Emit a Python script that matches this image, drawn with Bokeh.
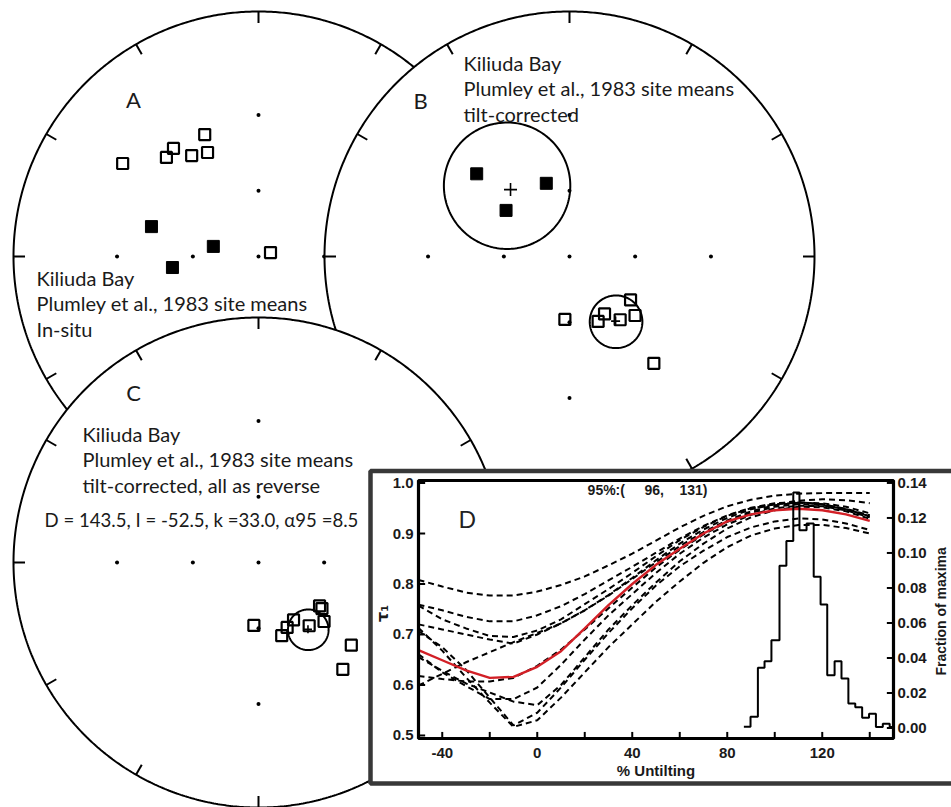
import numpy as np
from bokeh.plotting import figure
from bokeh.models import Range1d
from bokeh.core.properties import value
from bokeh.embed import file_html
from bokeh.resources import INLINE

# ---------------- data ----------------
# Panel A: Kiliuda Bay site means, in-situ (declination, inclination)
a_dec = [304.4, 317.1, 321.8, 326.5, 336.2, 333.9, 71.9, 285.6, 282.6, 262.7]
a_inc = [-22.2, -32.2, -31.4, -37.4, -32.9, -39.4, -84.1, 41.2, 68.6, 51.0]

# Panel B: same sites, tilt-corrected
b_dec = [311.7, 342.4, 306.0, 184.2, 125.4, 148.6, 156.2, 141.3, 132.0, 141.7]
b_inc = [36.2, 55.2, 54.5, -61.1, -56.0, -59.3, -57.7, -53.4, -50.4, -31.9]
b_mean_dec = [318.6, 144.5]
b_mean_inc = [50.0, -54.1]
b_mean_a95 = [25.5, 11.1]

# Panel C: tilt-corrected, all as reverse -- Fisher mean
c_mean_dec = 143.5
c_mean_inc = -52.5
c_mean_k = 33.0
c_mean_a95 = 8.5

# Panel D: fold test
untilt = [-50, -40, -30, -20, -10, 0, 10, 20, 30, 40, 50, 60, 70, 80, 90, 100, 110, 120, 130, 140]
tau1_data = [0.669, 0.649, 0.629, 0.614, 0.616, 0.636, 0.667, 0.712, 0.758, 0.800,
             0.838, 0.870, 0.900, 0.924, 0.938, 0.946, 0.949, 0.946, 0.938, 0.925]
tau1_boot = [
    [0.808, 0.795, 0.783, 0.777, 0.777, 0.785, 0.798, 0.815, 0.837, 0.860, 0.886, 0.912, 0.935, 0.954, 0.967, 0.975, 0.979, 0.980, 0.980, 0.980],
    [0.759, 0.748, 0.735, 0.726, 0.726, 0.738, 0.756, 0.780, 0.807, 0.834, 0.862, 0.890, 0.915, 0.936, 0.951, 0.960, 0.962, 0.958, 0.949, 0.936],
    [0.757, 0.730, 0.712, 0.697, 0.695, 0.708, 0.730, 0.760, 0.790, 0.822, 0.855, 0.887, 0.913, 0.935, 0.950, 0.958, 0.961, 0.958, 0.948, 0.934],
    [0.720, 0.710, 0.700, 0.690, 0.682, 0.700, 0.722, 0.748, 0.778, 0.812, 0.847, 0.880, 0.908, 0.931, 0.948, 0.958, 0.965, 0.968, 0.966, 0.960],
    [0.713, 0.668, 0.615, 0.565, 0.517, 0.530, 0.575, 0.625, 0.675, 0.720, 0.765, 0.805, 0.842, 0.873, 0.896, 0.910, 0.917, 0.917, 0.911, 0.900],
    [0.707, 0.675, 0.630, 0.575, 0.520, 0.545, 0.595, 0.650, 0.703, 0.752, 0.797, 0.835, 0.866, 0.893, 0.912, 0.924, 0.930, 0.928, 0.920, 0.907],
    [0.661, 0.625, 0.598, 0.572, 0.572, 0.595, 0.640, 0.690, 0.738, 0.780, 0.822, 0.860, 0.892, 0.918, 0.937, 0.950, 0.955, 0.954, 0.946, 0.932],
    [0.655, 0.628, 0.603, 0.585, 0.567, 0.560, 0.600, 0.655, 0.710, 0.758, 0.803, 0.845, 0.880, 0.910, 0.932, 0.946, 0.953, 0.952, 0.944, 0.929],
    [0.618, 0.612, 0.607, 0.607, 0.614, 0.638, 0.670, 0.710, 0.752, 0.793, 0.833, 0.868, 0.898, 0.923, 0.941, 0.953, 0.958, 0.956, 0.948, 0.934],
    [0.599, 0.622, 0.645, 0.665, 0.685, 0.703, 0.722, 0.748, 0.777, 0.810, 0.843, 0.875, 0.903, 0.926, 0.944, 0.956, 0.961, 0.960, 0.953, 0.940],
]
hist_edges = [87.0, 89.8, 92.9, 95.7, 98.6, 102.0, 104.9, 107.8, 110.4, 113.4, 116.4, 119.3,
              122.1, 125.2, 128.1, 131.0, 133.9, 136.8, 139.7, 142.6, 145.5, 148.4, 150.0]
hist_frac = [0.0007, 0.0064, 0.0344, 0.0382, 0.0502, 0.0927, 0.1068, 0.1346, 0.1130, 0.1169, 0.0864,
             0.0706, 0.0302, 0.0382, 0.0283, 0.0140, 0.0119, 0.0058, 0.0081, 0.0005, 0.0024, 0.0005]
bounds95 = (96, 131)

tau_ticks = [0.5, 0.6, 0.7, 0.8, 0.9, 1.0]
tau_tick_labels = ["0.5", "0.6", "0.7", "0.8", "0.9", "1.0"]
x_ticks = [-40, -20, 0, 20, 40, 60, 80, 100, 120, 140]
x_tick_labels = ["-40", "0", "40", "80", "120"]
x_tick_label_pos = [-40, 0, 40, 80, 120]
frac_ticks = [0.0, 0.02, 0.04, 0.06, 0.08, 0.10, 0.12, 0.14]
frac_tick_labels = ["0.00", "0.02", "0.04", "0.06", "0.08", "0.10", "0.12", "0.14"]

# ---------------- helpers ----------------
def stereo(dec, inc):
    d = np.radians(np.asarray(dec, float))
    i = np.radians(np.abs(np.asarray(inc, float)))
    r = np.tan((np.pi / 2 - i) / 2)
    return r * np.sin(d), r * np.cos(d)


def cone(dec, inc, a95, n=181):
    d, i, a = np.radians([dec, abs(inc), a95])
    m = np.array([np.cos(i) * np.cos(d), np.cos(i) * np.sin(d), np.sin(i)])
    e1 = np.array([-np.sin(i) * np.cos(d), -np.sin(i) * np.sin(d), np.cos(i)])
    e2 = np.cross(m, e1)
    t = np.linspace(0, 2 * np.pi, n)
    pts = np.cos(a) * m[:, None] + np.sin(a) * (np.cos(t) * e1[:, None] + np.sin(t) * e2[:, None])
    inc_p = np.degrees(np.arcsin(np.clip(pts[2], -1, 1)))
    dec_p = np.degrees(np.arctan2(pts[1], pts[0]))
    return stereo(dec_p, inc_p)


W, H = 951, 807
p = figure(width=W, height=H, x_range=Range1d(0, W), y_range=Range1d(H, 0),
           output_backend="svg", toolbar_location=None, min_border=0,
           x_axis_type=None, y_axis_type=None)
p.outline_line_color = None
p.background_fill_color = "white"
p.border_fill_color = "white"

R = 245
LABEL_FONT = value("Lato")


def draw_net(cx, cy):
    g = p.subplot(x_source=Range1d(-1, 1), y_source=Range1d(-1, 1),
                  x_target=Range1d(cx - R, cx + R), y_target=Range1d(cy + R, cy - R))
    th = np.linspace(0, 2 * np.pi, 721)
    g.patch(np.sin(th), np.cos(th), fill_color="white", line_color="black", line_width=2)
    az = np.radians(np.arange(0, 360, 30))
    g.multi_line([[np.sin(a), 0.953 * np.sin(a)] for a in az],
                 [[np.cos(a), 0.953 * np.cos(a)] for a in az],
                 line_color="black", line_width=2)
    dd, di = [0], [90]
    for az_d in [0, 90, 180, 270]:
        for inc in [30, 60]:
            dd.append(az_d)
            di.append(inc)
    dx, dy = stereo(dd, di)
    g.scatter(dx, dy, marker="circle", size=4, fill_color="black", line_color=None)
    return g


def plot_sites(g, dec, inc, size_open=11, size_fill=12):
    dec = np.asarray(dec, float)
    inc = np.asarray(inc, float)
    x, y = stereo(dec, inc)
    up = inc < 0
    g.scatter(x[up], y[up], marker="square", size=size_open, fill_color=None,
              line_color="black", line_width=2.2)
    g.scatter(x[~up], y[~up], marker="square", size=size_fill, fill_color="black",
              line_color="black", line_width=1)


def text(x, y, s, size="20px", font=LABEL_FONT, align="left", baseline="alphabetic", style="normal"):
    p.text(x=[x], y=[y], text=[s], text_font=font, text_font_size=size,
           text_align=align, text_baseline=baseline, text_font_style=style, text_color="#1a1a1a")

# ---------------- Net A ----------------
gA = draw_net(258, 256)
plot_sites(gA, a_dec, a_inc)
text(133, 99, "A", size="22px", align="center")
text(36, 277, "Kiliuda Bay")
text(36, 302, "Plumley et al., 1983 site means")
text(36, 328, "In-situ")

# ---------------- Net B ----------------
gB = draw_net(569, 256)
plot_sites(gB, b_dec, b_inc)
for dm, im, am, sz in zip(b_mean_dec, b_mean_inc, b_mean_a95, [13, 9]):
    cxs, cys = cone(dm, im, am)
    gB.line(cxs, cys, line_color="black", line_width=2)
    mx, my = stereo([dm], [im])
    gB.scatter(mx, my, marker="cross", size=sz, line_color="black", line_width=1.6)
text(420, 100, "B", size="22px", align="center")
text(463, 62, "Kiliuda Bay")
text(463, 87, "Plumley et al., 1983 site means")
text(463, 113, "tilt-corrected")

# ---------------- Net C ----------------
gC = draw_net(258, 562)
c_dec = [(d + 180) % 360 if i > 0 else d for d, i in zip(b_dec, b_inc)]
c_inc = [-abs(i) for i in b_inc]
plot_sites(gC, c_dec, c_inc)
cxs, cys = cone(c_mean_dec, c_mean_inc, c_mean_a95)
gC.line(cxs, cys, line_color="black", line_width=2)
mx, my = stereo([c_mean_dec], [c_mean_inc])
gC.scatter(mx, my, marker="cross", size=8, line_color="black", line_width=1.6)
text(133, 392, "C", size="22px", align="center")
text(82, 433, "Kiliuda Bay")
text(82, 458, "Plumley et al., 1983 site means")
text(82, 484, "tilt-corrected, all as reverse")
text(44, 519, f"D = {c_mean_dec:.1f}, I = {c_mean_inc:.1f}, k ={c_mean_k:.1f}, \u03b195 ={c_mean_a95:.1f}",
     size="18.6px")

# ---------------- Panel D ----------------
p.quad(left=[370], right=[975], top=[470.5], bottom=[783], fill_color="white",
       line_color="#383838", line_width=4.5)

X0, X1, PX0, PX1 = -50, 150, 418, 893
TAU0, TAU1 = 0.494, 1.005
FR0, FR1 = -0.006, 0.1414
PY0, PY1 = 738, 480
gd = p.subplot(x_source=Range1d(X0, X1), y_source=Range1d(TAU0, TAU1),
               x_target=Range1d(PX0, PX1), y_target=Range1d(PY0, PY1))
gh = p.subplot(x_source=Range1d(X0, X1), y_source=Range1d(FR0, FR1),
               x_target=Range1d(PX0, PX1), y_target=Range1d(PY0, PY1))

for curve in tau1_boot:
    gd.line(untilt, curve, line_color="black", line_width=2, line_dash="6 4")
gd.line(untilt, tau1_data, line_color="#d21f26", line_width=2.4)

hx, hy = [], []
for k, v in enumerate(hist_frac):
    hx += [hist_edges[k], hist_edges[k + 1]]
    hy += [v, v]
    if k + 1 < len(hist_frac):
        hx.append(hist_edges[k + 1])
        hy.append(hist_frac[k + 1])
gh.line(hx, hy, line_color="black", line_width=2)

# frame and ticks
gd.quad(left=[X0], right=[X1], bottom=[TAU0], top=[TAU1], fill_color=None,
        line_color="black", line_width=3.2)
gd.segment(x0=[X0] * len(tau_ticks), y0=tau_ticks, x1=[X0 + 2.8] * len(tau_ticks), y1=tau_ticks,
           line_color="black", line_width=2)
gd.segment(x0=x_ticks, y0=[TAU0] * len(x_ticks), x1=x_ticks, y1=[TAU0 + 0.013] * len(x_ticks),
           line_color="black", line_width=2)
gh.segment(x0=[X1] * len(frac_ticks), y0=frac_ticks, x1=[X1 - 2.8] * len(frac_ticks), y1=frac_ticks,
           line_color="black", line_width=2)

AX_FONT = value("Liberation Sans")
AX_SIZE = "15px"
AX_COLOR = "#1a1a1a"
gd.text(x=[X0] * len(tau_ticks), y=tau_ticks, text=tau_tick_labels, x_offset=-5,
        text_align="right", text_baseline="middle", text_font=AX_FONT,
        text_font_size=AX_SIZE, text_font_style="bold", text_color=AX_COLOR)
gd.text(x=x_tick_label_pos, y=[TAU0] * len(x_tick_label_pos), text=x_tick_labels, y_offset=14,
        text_align="center", text_baseline="middle", text_font=AX_FONT,
        text_font_size=AX_SIZE, text_font_style="bold", text_color=AX_COLOR)
gh.text(x=[X1] * len(frac_ticks), y=frac_ticks, text=frac_tick_labels, x_offset=4,
        text_align="left", text_baseline="middle", text_font=AX_FONT,
        text_font_size=AX_SIZE, text_font_style="bold", text_color=AX_COLOR)
gd.text(x=[50], y=[TAU0], text=["% Untilting"], y_offset=32, text_align="center",
        text_baseline="middle", text_font=AX_FONT, text_font_size=AX_SIZE,
        text_font_style="bold", text_color=AX_COLOR)
gh.text(x=[X1], y=[0.0666], text=["Fraction of maxima"], x_offset=47, angle=np.pi / 2,
        text_align="center", text_baseline="middle", text_font=AX_FONT,
        text_font_size="14px", text_font_style="bold", text_color=AX_COLOR)
gd.text(x=[X0], y=[0.742], text=["\u03c4\u2081"], x_offset=-36, angle=np.pi / 2,
        text_align="center", text_baseline="middle", text_font=value("DejaVu Sans"),
        text_font_size="16px", text_font_style="bold", text_color=AX_COLOR)
NB = "\u00a0"
gd.text(x=[21.2], y=[0.986],
        text=[f"95%:({NB * 5}{bounds95[0]},{NB * 4}{bounds95[1]})"],
        text_align="left", text_baseline="middle", text_font=AX_FONT,
        text_font_size="14px", text_font_style="bold", text_color=AX_COLOR)
gd.text(x=[-33.2], y=[0.9297], text=["D"], text_align="left", text_baseline="alphabetic",
        text_font=LABEL_FONT, text_font_size="23px", text_color="#222222")

open("out.html", "w").write(file_html(p, INLINE))
